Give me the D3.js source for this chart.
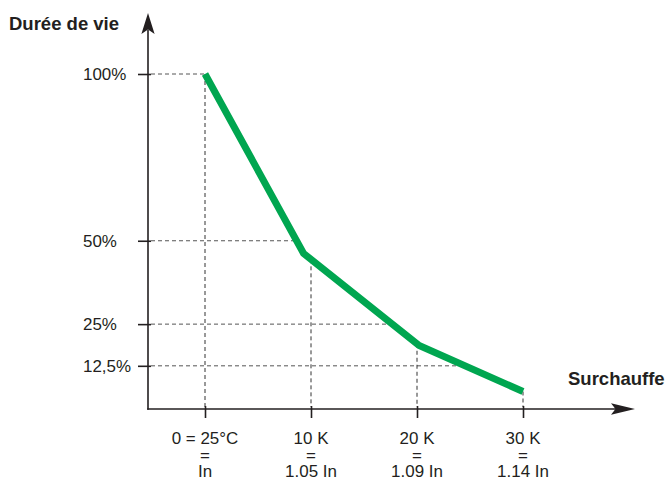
<!DOCTYPE html>
<html>
<head>
<meta charset="utf-8">
<script src="https://cdn.jsdelivr.net/npm/d3@7"></script>
<style>
  html, body { margin: 0; padding: 0; background: #fff; }
  svg { display: block; }
  text { font-family: "Liberation Sans", Arial, Helvetica, sans-serif; fill: #231f20; }
</style>
</head>
<body>
<svg id="chart" width="672" height="479"></svg>
<script>
// ---- data ----
const overheatK = [0, 9.3, 20.2, 30];          // surchauffe (K)
const lifePct   = [100, 46.2, 18.6, 4.8];      // durée de vie (%)
const yTickValues = [100, 50, 25, 12.5];
const yTickLabels = ["100%", "50%", "25%", "12,5%"];
const xTickValues = [0, 10, 20, 30];
const xTickLabels = [
  ["0 = 25°C", "=", "In"],
  ["10 K", "=", "1.05 In"],
  ["20 K", "=", "1.09 In"],
  ["30 K", "=", "1.14 In"]
];
const yTitle = "Durée de vie";
const xTitle = "Surchauffe";

// ---- layout ----
const svg = d3.select("#chart");
const axisX0 = 148, axisY0 = 409;
const x = d3.scaleLinear().domain([0, 30]).range([205, 523]);
const y = d3.scaleLinear().domain([0, 100]).range([407.5, 74]);
const ink = "#231f20";

const pts = overheatK.map((k, i) => [k, lifePct[i]]);

// interpolation helpers along the polyline
function yAtX(k) {
  for (let i = 0; i < pts.length - 1; i++) {
    const [x0, y0] = pts[i], [x1, y1] = pts[i + 1];
    if (k >= x0 && k <= x1) return y0 + (y1 - y0) * (k - x0) / (x1 - x0);
  }
  return pts[pts.length - 1][1];
}
function xAtY(v) {
  for (let i = 0; i < pts.length - 1; i++) {
    const [x0, y0] = pts[i], [x1, y1] = pts[i + 1];
    if (v <= y0 && v >= y1) return x0 + (x1 - x0) * (y0 - v) / (y0 - y1);
  }
  return pts[0][0];
}

// ---- dashed guide lines ----
const guides = svg.append("g").attr("stroke-width", 1)
  .attr("stroke-dasharray", "4,3").attr("fill", "none");
yTickValues.forEach(v => {
  guides.append("line").attr("stroke", "#555")
    .attr("x1", axisX0 + 3).attr("x2", x(xAtY(v)))
    .attr("y1", y(v)).attr("y2", y(v));
});
xTickValues.forEach(k => {
  guides.append("line").attr("stroke", "#333")
    .attr("x1", x(k)).attr("x2", x(k))
    .attr("y1", y(yAtX(k))).attr("y2", axisY0 - 2);
});

// ---- ticks via d3 axes ----
const yAxis = d3.axisLeft(y).tickValues(yTickValues).tickSize(10).tickFormat("");
const gy = svg.append("g").attr("transform", `translate(${axisX0},0)`).call(yAxis);
gy.select(".domain").remove();
gy.selectAll(".tick line").attr("stroke", ink).attr("stroke-width", 1.6).attr("x2", -10).attr("x1", 3);

const xAxis = d3.axisBottom(x).tickValues(xTickValues).tickSize(9).tickFormat("");
const gx = svg.append("g").attr("transform", `translate(0,${axisY0})`).call(xAxis);
gx.select(".domain").remove();
gx.selectAll(".tick line").attr("stroke", ink).attr("stroke-width", 1.6).attr("y1", -3).attr("y2", 9);

// ---- axis lines with arrows ----
svg.append("line").attr("x1", axisX0).attr("x2", axisX0).attr("y1", axisY0 + 0.8).attr("y2", 30)
  .attr("stroke", ink).attr("stroke-width", 1.6);
svg.append("line").attr("x1", axisX0 - 0.8).attr("x2", 618).attr("y1", axisY0).attr("y2", axisY0)
  .attr("stroke", ink).attr("stroke-width", 1.6);
svg.append("path").attr("fill", ink)
  .attr("d", `M${axisX0},13 L${axisX0 + 6.6},34 L${axisX0},29.5 L${axisX0 - 6.6},34 Z`);
svg.append("path").attr("fill", ink)
  .attr("d", `M635,${axisY0} L611,${axisY0 + 5.8} L615.5,${axisY0} L611,${axisY0 - 5.8} Z`);

// ---- curve ----
svg.append("path")
  .datum(pts)
  .attr("fill", "none")
  .attr("stroke", "#00a650")
  .attr("stroke-width", 7)
  .attr("stroke-linejoin", "miter")
  .attr("stroke-linecap", "butt")
  .attr("d", d3.line().x(d => x(d[0])).y(d => y(d[1])));

// ---- labels ----
const sx = 1.06;
function reg(px, py, txt, anchor) {
  svg.append("text")
    .attr("transform", `translate(${px},${py}) scale(${sx},1)`)
    .attr("font-size", 16)
    .attr("text-anchor", anchor)
    .text(txt);
}
yTickValues.forEach((v, i) => reg(83, y(v) + 5.8, yTickLabels[i], "start"));
const lineBase = [444, 460.5, 477];
xTickValues.forEach((k, i) => {
  xTickLabels[i].forEach((t, j) => reg(x(k), lineBase[j], t, "middle"));
});

svg.append("text").attr("x", 9).attr("y", 30).attr("font-size", 18.5)
  .attr("font-weight", "bold").text(yTitle);
svg.append("text").attr("x", 568).attr("y", 385).attr("font-size", 18.5)
  .attr("font-weight", "bold").text(xTitle);
</script>
</body>
</html>
